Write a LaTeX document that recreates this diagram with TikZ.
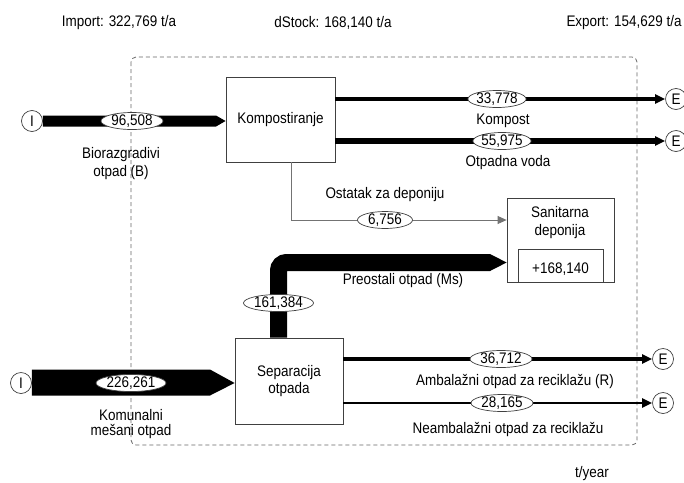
\documentclass[tikz,border=0pt]{standalone}
\usepackage{fontspec}
\setmainfont{Liberation Sans}[FakeStretch=0.88]
\usetikzlibrary{arrows.meta,shapes.geometric}
\begin{document}
\begin{tikzpicture}[x=1pt,y=-1pt,
  font=\fontsize{15.3}{17}\selectfont,
  box/.style={draw=black!75, line width=0.8pt, fill=white, align=center, inner sep=0pt},
  lbl/.style={ellipse, draw=black!75, line width=0.7pt, fill=white, inner sep=0pt, minimum height=17pt, text height=9pt, text depth=1pt},
  term/.style={circle, draw=black!75, line width=0.7pt, fill=white, minimum size=21pt, inner sep=0pt},
  txt/.style={align=center, inner sep=0pt},
  flow/.style={draw=black, -{Triangle[length=10pt,width=9pt]}},
  ]
\useasboundingbox (0,0) rectangle (684,482);
\fill[white] (0,0) rectangle (684,482);
% top labels
\node[txt] (imp) at (119,23) {Import: 322,769 t/a};
\node[txt] (dst) at (333,23) {dStock: 168,140 t/a};
\node[txt] (exp) at (624,23) {Export: 154,629 t/a};
\node[txt] (unit) at (592,473.5) {t/year};
% system boundary
\draw[black!60, line width=0.8pt, dash pattern=on 4pt off 3pt, rounded corners=5pt] (131,57) rectangle (637,445);
% processes
\node[box, minimum width=109pt, minimum height=85pt] (komp) at (280.5,119.5) {Kompostiranje};
\node[box, minimum width=108pt, minimum height=86pt] (sep) at (289,381) {Separacija\\otpada};
\node[box, minimum width=107pt, minimum height=84pt] (dep) at (560.5,240) {};
\node[txt] (deptxt) at (560,222.5) {Sanitarna\\[1pt]deponija};
\draw[black!75, line width=0.8pt] (518,282) -- (518,249) -- (603,249) -- (603,282);
\node[txt] (stock) at (560.5,269) {+168,140};
% terminals
\node[term] (i1) at (32,121) {I};
\node[term] (i2) at (21,383) {I};
\node[term] (e1) at (676,99) {E};
\node[term] (e2) at (676,141) {E};
\node[term] (e3) at (663,359) {E};
\node[term] (e4) at (663,403) {E};
% big input arrows
\fill[black] (i1.east |- 0,115.5) -- (216,115.5) -- (komp.west |- i1) -- (216,126.5) -- (i1.east |- 0,126.5) -- cycle;
\fill[black] (i2.east |- 0,369.5) -- (210,369.5) -- (sep.west |- i2) -- (210,395.5) -- (i2.east |- 0,395.5) -- cycle;
% remaining waste to landfill
\coordinate (msend) at (490,262.5);
\draw[black, line width=17pt, rounded corners=8pt] (sep.north -| 278.5,0) -- (278.5,262.5) -- (msend);
\fill[black] (490,254) -- (dep.west |- msend) -- (490,271) -- cycle;
% residue to landfill
\draw[black!55, line width=0.8pt, -{Triangle[length=9pt,width=8pt]}] (komp.south -| 291,0) -- (291,220) -- (dep.west |- 0,220);
% output flows
\draw[flow, line width=3.5pt] (komp.east |- e1) -- (e1.west);
\draw[flow, line width=6pt] (komp.east |- e2) -- (e2.west);
\draw[flow, line width=3.5pt] (sep.east |- e3) -- (e3.west);
\draw[flow, line width=2.5pt] (sep.east |- e4) -- (e4.west);
% value labels
\node[lbl, minimum width=62pt] (v1) at (132,121) {96,508};
\node[lbl, minimum width=70pt] (v2) at (131,383) {226,261};
\node[lbl, minimum width=70pt] (v3) at (278.5,303) {161,384};
\node[lbl, minimum width=55pt] (v4) at (385,220) {6,756};
\node[lbl, minimum width=55pt] (v5) at (497,99) {33,778};
\node[lbl, minimum width=58pt] (v6) at (502,141) {55,975};
\node[lbl, minimum width=62pt] (v7) at (501,359) {36,712};
\node[lbl, minimum width=62pt] (v8) at (502,403) {28,165};
% flow names
\node[txt] (n1) at (121,164) {Biorazgradivi\\[1pt]otpad (B)};
\node[txt] (n2) at (131,424.5) {Komunalni\\[-2pt]me\v{s}ani otpad};
\node[txt] (n3) at (403,281) {Preostali otpad (Ms)};
\node[txt] (n4) at (385,195) {Ostatak za deponiju};
\node[txt] (n5) at (503,121) {Kompost};
\node[txt] (n6) at (508,163) {Otpadna voda};
\node[txt] (n7) at (515,382) {Ambala\v{z}ni otpad za reciklažu (R)};
\node[txt] (n8) at (508,430) {Neambala\v{z}ni otpad za reciklažu};
\end{tikzpicture}
\end{document}
